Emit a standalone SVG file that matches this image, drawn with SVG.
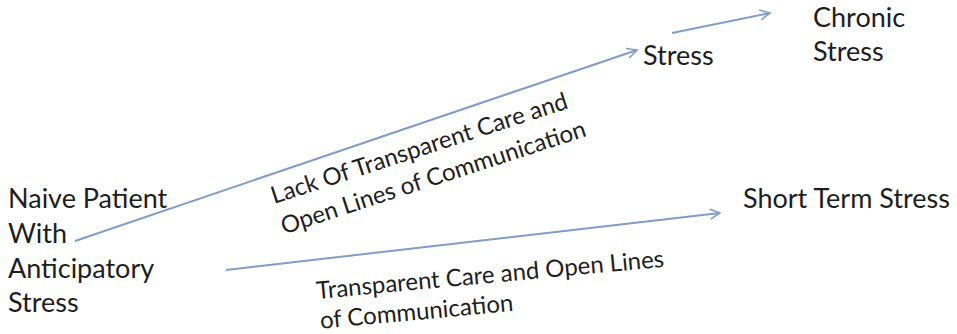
<svg xmlns="http://www.w3.org/2000/svg" width="957" height="334" viewBox="0 0 957 334">
  <defs>
    <marker id="arrow" viewBox="0 0 12 12" refX="11" refY="6" markerWidth="12" markerHeight="12" markerUnits="userSpaceOnUse" orient="auto">
      <path d="M1,1 L11,6 L1,11" fill="none" stroke="#7f9dc8" stroke-width="1.6"/>
    </marker>
    <style>
      .t { font-family: Lato, "Open Sans", "Liberation Sans", sans-serif; font-size: 27px; fill: #1e1e1e; }
      .lbl { font-family: Lato, "Open Sans", "Liberation Sans", sans-serif; font-size: 24px; fill: #1e1e1e; }
      .edge { fill: none; stroke: #7f9dc8; stroke-width: 2; marker-end: url(#arrow); }
    </style>
  </defs>
  <rect width="957" height="334" fill="#fff"/>

  <g id="connectors">
    <line class="edge" x1="75" y1="241" x2="637" y2="50"/>
    <line class="edge" x1="672" y1="33" x2="770" y2="13"/>
    <line class="edge" x1="226" y1="270" x2="720" y2="213"/>
  </g>

  <g id="naive-patient">
    <text class="t" x="8" y="208">Naive Patient</text>
    <text class="t" x="8" y="243">With</text>
    <text class="t" x="8" y="278">Anticipatory</text>
    <text class="t" x="8" y="312">Stress</text>
  </g>

  <g id="stress">
    <text class="t" x="643" y="65">Stress</text>
  </g>

  <g id="chronic-stress">
    <text class="t" x="813" y="27">Chronic</text>
    <text class="t" x="813" y="61">Stress</text>
  </g>

  <g id="short-term-stress">
    <text class="t" x="743" y="208">Short Term Stress</text>
  </g>

  <g id="label-lack">
    <text class="lbl" transform="translate(274,204) rotate(-18)">
      <tspan x="0" y="0">Lack Of Transparent Care and</tspan>
      <tspan x="0" y="32">Open Lines of Communication</tspan>
    </text>
  </g>

  <g id="label-transparent">
    <text class="lbl" transform="translate(317,299) rotate(-5.3)">
      <tspan x="0" y="0">Transparent Care and Open Lines</tspan>
      <tspan x="1" y="30">of Communication</tspan>
    </text>
  </g>
</svg>
